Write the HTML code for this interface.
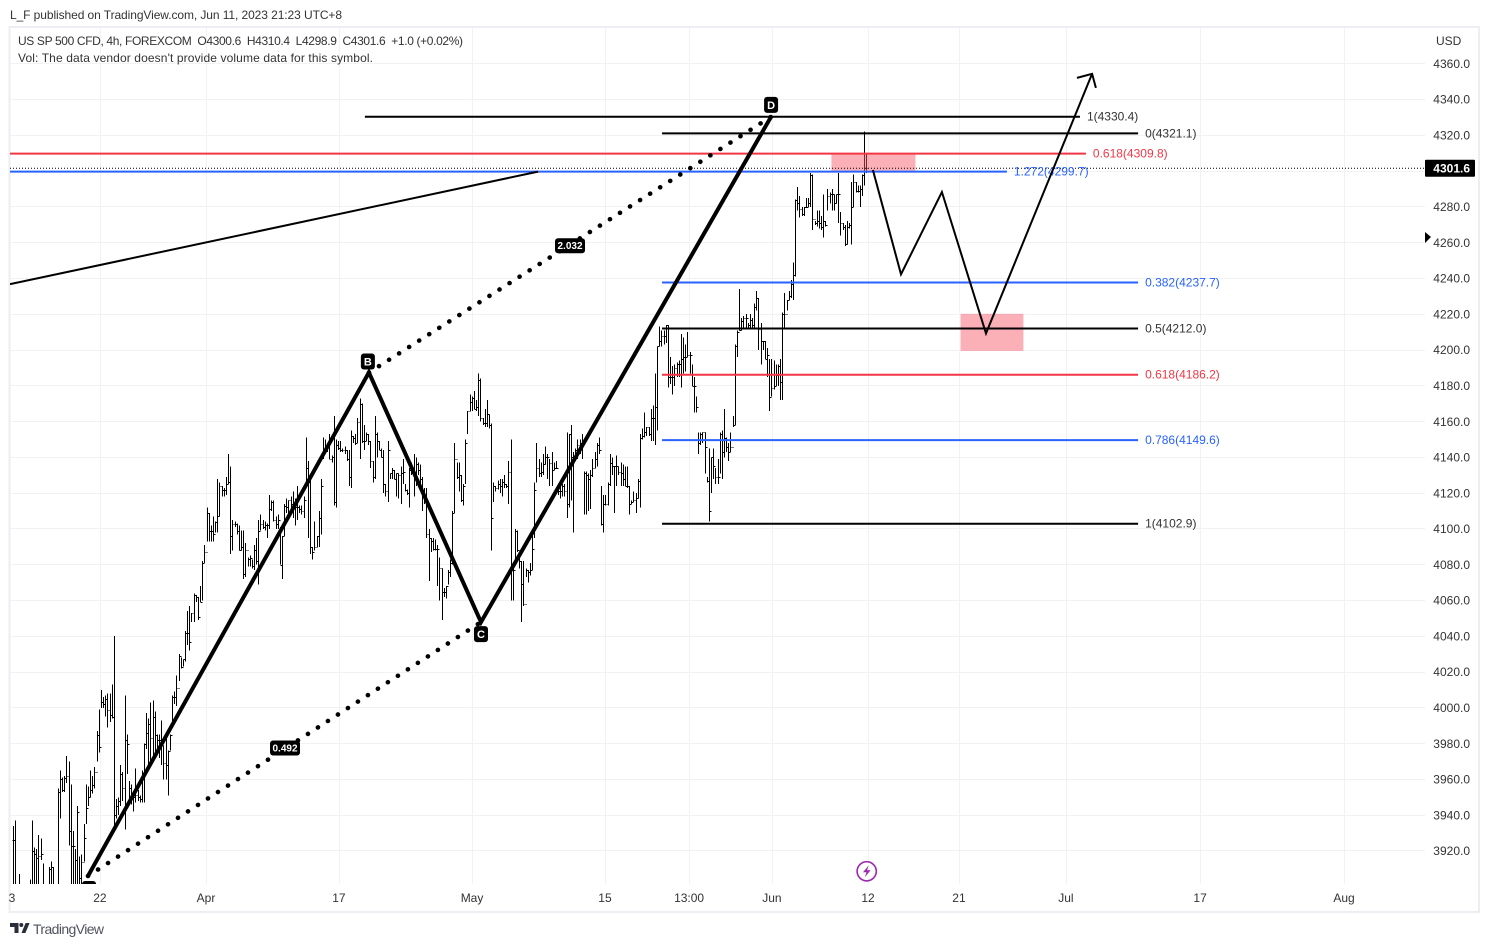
<!DOCTYPE html>
<html lang="en">
<head>
<meta charset="utf-8">
<title>US SP 500 CFD 4h chart</title>
<style>
html,body{margin:0;padding:0;background:#fff;width:1489px;height:947px;overflow:hidden}
svg{display:block;font-family:"Liberation Sans",Arial,sans-serif}
</style>
</head>
<body>
<svg id="chart" xmlns="http://www.w3.org/2000/svg" width="1489" height="947" viewBox="0 0 1489 947">
  <defs><clipPath id="pane-clip"><rect x="10" y="28" width="1415" height="856"/></clipPath></defs>
  <rect x="0" y="0" width="1489" height="947" fill="#ffffff"/>
  <rect x="9.5" y="27" width="1469.5" height="885" fill="#ffffff" stroke="#eceef4" stroke-width="2"/>
  <text x="10" y="19" font-size="12" fill="#333" textLength="332" lengthAdjust="spacing">L_F published on TradingView.com, Jun 11, 2023 21:23 UTC+8</text>
  <g id="grid"></g>
  <g id="pane" clip-path="url(#pane-clip)">
    <g id="bars" stroke="#000" stroke-width="1" fill="none" shape-rendering="crispEdges"></g>
    <g id="drawings"></g>
  </g>
  <text x="18" y="45" font-size="12" fill="#333" textLength="445" lengthAdjust="spacing" xml:space="preserve">US SP 500 CFD, 4h, FOREXCOM  O4300.6  H4310.4  L4298.9  C4301.6  +1.0 (+0.02%)</text>
  <text x="18" y="62" font-size="12" fill="#333" textLength="355" lengthAdjust="spacing">Vol: The data vendor doesn't provide volume data for this symbol.</text>
  <text x="1436" y="45" font-size="12" fill="#333">USD</text>
  <g id="y-axis"></g>
  <g id="x-axis"></g>
  <polygon points="1425,232 1431,237 1425,243" fill="#000"/>
  <g>
    <circle cx="866.7" cy="871.3" r="9.6" fill="#fff" stroke="#9c27b0" stroke-width="1.6"/>
    <path d="M868.8 865.3 L863 872.3 H866.5 L864.8 877.3 L870.6 870.3 H867.1 Z" fill="#9c27b0"/>
  </g>
  <g>
    <path d="M10 923h8.5v10h-4v-6H10z" fill="#2a2e39"/>
    <circle cx="21.3" cy="925" r="2" fill="#2a2e39"/>
    <path d="M21.5 933L25.6 923H29.6L25.4 933z" fill="#2a2e39"/>
    <text x="33" y="934" font-size="14" fill="#50535e" textLength="71" lengthAdjust="spacing">TradingView</text>
  </g>
</svg>
<script>
const highs=[
3934,3937,3899,3907,3895,3895,3895,3896,3904,3937,3922,
3921,3929,3927,3913,3896,3899,3911,3914,3911,3897,
3955,3965,3961,3962,3973,3970,3957,3931,3921,3945,
3917,3918,3935,3957,3956,3965,3962,3967,3987,3999,
4010,4006,4007,4008,4008,4013,4040,3949,3950,3968,
3964,4007,3985,3959,3957,3951,3966,3954,3951,3965,
3980,3997,3994,4003,4004,3998,3985,3985,3993,
3979,3983,3976,3985,4007,
4009,4018,4030,4028,4027,4043,4054,4057,4053,4064,4063,4062,4068,4082,
4091,4112,4109,4102,4107,4104,4128,4126,4124,4123,
4129,4142,4135,4105,4104,4103,4102,4099,4099,4092,
4084,4085,4083,4091,4095,4105,4108,4105,4104,4103,
4119,4116,4116,4107,4108,4101,4096,4114,4117,
4116,4118,4121,4117,4124,4113,4113,4118,4151,4138,
4128,4090,4104,4096,4110,4128,4151,4150,4148,4153,
4141,4163,4150,4149,4149,4145,4146,4144,4144,4155,
4152,4153,4162,4173,4170,4158,4154,4153,4149,4138,
4163,4154,4149,4145,4144,4125,
4149,4131,4134,4133,4131,4131,4135,4139,4125,4122,
4134,4137,4142,4140,4137,4136,4129,4123,4123,4100,
4095,4095,4094,4091,4084,4078,4067,4068,4077,4083,
4110,4148,4137,4137,4130,4125,4150,4166,4175,4174,4177,
4172,4187,4184,4162,4167,4172,4164,4159,4126,4124,
4127,4128,4128,
4130,4125,4138,4150,4079,4100,4099,4087,4082,4082,
4078,4077,4081,4099,4126,4148,4139,4137,4142,4146,
4142,
4139,4143,4137,4138,4125,4124,4125,4125,
4154,4153,4158,4143,4145,4150,4150,4153,4132,4132,
4131,
4133,4139,4143,4148,4151,4124,4119,4119,4126,4142,
4140,4135,4141,4135,4137,4136,4135,4135,4124,4116,4121,4120,4128,
4153,4156,4165,4157,4157,4167,4169,4187,4202,4213,
4211,4211,4214,4214,4196,4191,4192,4193,4194,4209,
4207,4203,4210,4199,4192,4185,4174,4154,4154,4154,
4154,4129,4145,4140,4145,4134,4139,4154,4155,4167,
4151,4148,4154,4163,4203,4211,4234,4218,4219,4220,
4215,4220,4218,4226,4233,4229,4215,4205,4205,4201,
4195,4195,4194,4192,4192,4195,4221,4232,4228,4233,
4239,
4249,4284,4291,4286,4280,4280,4285,4285,4299,4298,
4272,4278,4278,4275,4287,4272,4290,4288,4290,4287,
4287,4299,4277,4271,4270,4272,4271,4294,4298,4294,
4292,4292,4298,4322,4310];
const lows=[
3885,3885,3885,3885,3885,3885,3885,3885,3885,3885,3885,
3900,3897,3915,3885,3885,3885,3885,3885,3885,3885,
3885,3938,3953,3953,3958,3923,3885,3885,3885,3900,
3895,3885,3914,3935,3945,3950,3952,3955,3970,3975,
4000,4000,3995,3989,3992,3994,3934,3938,3940,3945,
3948,3932,3963,3948,3946,3942,3947,3948,3947,3947,
3947,3977,3968,3968,3970,3974,3976,3972,3968,
3960,3960,3951,3976,3992,
4002,4001,4015,4022,4023,4026,4035,4032,4048,4048,4059,4049,4059,4060,
4081,4093,4093,4093,4093,4098,4098,4107,4118,4118,
4119,4125,4086,4088,4101,4097,4088,4088,4072,4073,
4079,4079,4078,4077,4080,4069,4099,4100,4099,4095,
4100,4110,4104,4100,4100,4080,4072,4096,4109,
4107,4108,4106,4102,4105,4109,4108,4106,4125,4095,
4086,4083,4088,4090,4090,4097,4139,4144,4143,4139,
4137,4113,4112,4144,4143,4143,4142,4138,4124,4123,
4148,4147,4148,4139,4148,4144,4149,4147,4134,4126,
4128,4140,4144,4140,4120,4118,
4115,4128,4128,4128,4118,4117,4114,4125,4121,4119,
4112,4130,4118,4124,4130,4122,4110,4114,4095,4071,
4087,4088,4088,4068,4060,4049,4062,4061,4069,4073,
4080,4109,4128,4121,4115,4113,4125,4153,4166,4166,4167,
4166,4163,4160,4158,4157,4157,4156,4088,4115,4121,
4122,4120,4118,
4123,4123,4114,4060,4060,4082,4087,4078,4048,4057,
4073,4070,4074,4077,4095,4126,4129,4129,4130,4136,
4128,
4124,4124,4133,4134,4119,4117,4118,4118,
4106,4112,4116,4098,4138,4139,4142,4139,4108,4108,
4110,
4111,4129,4134,4135,4142,4102,4098,4113,4113,4124,
4130,4109,4124,4130,4124,4124,4124,4123,4108,4114,4115,4109,4117,
4112,4150,4151,4152,4152,4149,4149,4147,4155,4202,
4202,4203,4204,4179,4181,4175,4180,4185,4185,4179,
4187,4188,4196,4187,4180,4165,4165,4142,4147,4148,
4131,4126,4104,4120,4128,4125,4125,4131,4128,4140,
4143,4138,4143,4157,4158,4196,4211,4211,4212,4212,
4212,4212,4212,4212,4222,4200,4192,4200,4195,4185,
4166,4174,4178,4180,4180,4172,4172,4212,4222,4228,
4229,
4228,4241,4278,4274,4275,4275,4280,4280,4280,4267,
4270,4269,4268,4267,4263,4269,4278,4282,4278,4278,
4282,4271,4264,4267,4258,4259,4268,4259,4280,4288,
4288,4280,4286,4292,4299];
const closes=[
3926,3895,3892,3895,3892,3892,3892,3894,3898,3920,3918,
3916,3917,3918,3900,3890,3895,3910,3911,3895,3890,
3953,3960,3954,3961,3962,3931,3923,3923,3915,3942,
3905,3914,3927,3944,3950,3954,3957,3964,3985,3978,
4003,4002,4005,3999,3996,3995,3940,3945,3948,3963,
3955,3982,3980,3955,3950,3950,3951,3950,3949,3960,
3980,3986,3991,3983,3995,3985,3982,3982,3979,
3969,3968,3976,3985,4006,
4006,4011,4029,4023,4027,4042,4042,4037,4053,4063,4062,4051,4059,4081,
4087,4109,4099,4099,4097,4104,4107,4124,4122,4122,
4125,4126,4096,4103,4103,4099,4088,4090,4075,4088,
4083,4084,4079,4088,4082,4099,4103,4101,4102,4102,
4111,4115,4105,4103,4105,4080,4096,4113,4112,
4116,4114,4113,4112,4112,4111,4110,4116,4134,4126,
4090,4087,4090,4096,4106,4124,4144,4144,4147,4139,
4140,4115,4147,4145,4144,4144,4144,4139,4129,4152,
4151,4148,4160,4170,4149,4149,4153,4149,4138,4129,
4153,4149,4144,4140,4125,4121,
4144,4131,4133,4128,4131,4130,4131,4132,4122,4120,
4133,4131,4129,4136,4133,4128,4122,4119,4097,4095,
4093,4089,4089,4089,4078,4065,4065,4068,4076,4081,
4109,4139,4129,4130,4116,4124,4148,4166,4171,4173,4167,
4168,4183,4162,4159,4159,4164,4158,4106,4124,4123,
4125,4124,4126,
4125,4124,4132,4078,4077,4099,4088,4082,4069,4058,
4077,4076,4077,4089,4122,4134,4131,4132,4136,4140,
4140,
4137,4133,4134,4134,4121,4121,4124,4121,
4114,4153,4140,4140,4144,4147,4148,4148,4131,4130,
4128,
4130,4134,4139,4147,4144,4103,4114,4114,4125,4137,
4135,4135,4135,4132,4131,4128,4124,4124,4114,4115,4116,4117,4127,
4151,4152,4154,4157,4153,4162,4162,4168,4202,4205,
4208,4208,4214,4185,4185,4185,4190,4192,4192,4195,
4196,4196,4197,4197,4180,4180,4168,4148,4153,4154,
4146,4127,4110,4140,4135,4129,4129,4153,4143,4151,
4146,4143,4146,4158,4202,4210,4211,4216,4218,4218,
4214,4217,4214,4224,4229,4212,4205,4205,4195,4197,
4174,4179,4180,4186,4191,4182,4220,4220,4228,4230,
4237,
4242,4284,4282,4279,4276,4280,4280,4282,4298,4273,
4271,4272,4271,4269,4272,4270,4286,4287,4287,4282,
4287,4287,4271,4269,4259,4269,4270,4280,4294,4289,
4289,4290,4298,4310,4301.6];

const priceTicks=[4360,4340,4320,4300,4280,4260,4240,4220,4200,4180,4160,4140,4120,4100,4080,4060,4040,4020,4000,3980,3960,3940,3920];
const timeTickLabels=["3","22","Apr","17","May","15","13:00","Jun","12","21","Jul","17","Aug"];
const timeTickBars=[-401.1,-359.8,-310,-247.6,-185.1,-122.7,-83.2,-44.3,0.8,43.5,93.7,156.7,224.3];
const lastPrice=4301.6;

const levelLabels=["1(4330.4)","0(4321.1)","0.618(4309.8)","1.272(4299.7)","0.382(4237.7)","0.5(4212.0)","0.618(4186.2)","0.786(4149.6)","1(4102.9)"];
const levelPrices=[4330.4,4321.1,4309.8,4299.7,4237.7,4212.0,4186.2,4149.6,4102.9];
const levelBarStart=[-235.4,-95.9,-402,-402,-95.9,-95.9,-95.9,-95.9,-95.9];
const levelBarEnd=[100.3,127.6,103.1,66,127.6,127.6,127.6,127.6,127.6];
const levelKinds=["black","black","red","blue","blue","black","red","blue","black"];

const patternBars=[-365.4,-233.5,-180.9,-44.7];
const patternPrices=[3906,4187.4,4047.9,4330.4];
const patternLetters=["X","B","C","D"];
const letterBars=[-364.9,-234,-180.9,-44.7];
const letterPrices=[3898.7,4193.6,4041.2,4337];

const ratioLabels=["0.492","2.032"];
const ratioBars=[-272.9,-139.1];
const ratioPrices=[3977.5,4258.3];

const trendBars=[-402,-154.1];
const trendPrices=[4236.8,4299.7];

const projectionBars=[3.1,16.3,35.5,56.2,106];
const projectionPrices=[4300.6,4242.3,4288.3,4209.3,4354.4];
const arrowBars=[98.9,106,107.8];
const arrowPrices=[4352.1,4354.4,4346.5];

const zoneBarStart=[-16.6,44];
const zoneBarEnd=[23.3,74];
const zoneTop=[4309.6,4220.5];
const zoneBottom=[4300,4199.2];

const NS="http://www.w3.org/2000/svg";
const endX=866.3, startX=12.5, drawStep=2.13;
const barStep=(endX-startX)/(highs.length-1);
function barX(i){return endX-(highs.length-1-i)*barStep;}
function offX(o){return endX+o*drawStep;}
function priceY(p){return 528.9-(p-4100)*1.789;}
function node(tag,parent){const el=document.createElementNS(NS,tag);parent.appendChild(el);return el;}
function pointsOf(xs,ys){return xs.map(function(o,i){return offX(o).toFixed(1)+","+priceY(ys[i]).toFixed(1);}).join(" ");}

const grid=document.getElementById("grid");
const yAxis=document.getElementById("y-axis");
const xAxis=document.getElementById("x-axis");
const barsG=document.getElementById("bars");
const drawG=document.getElementById("drawings");

priceTicks.forEach(function(p){
  const y=Math.floor(priceY(p))+0.5;
  const line=node("line",grid);
  
  
  line.setAttribute("x1",10);line.setAttribute("x2",1425);line.setAttribute("y1",y);line.setAttribute("y2",y);
  line.setAttribute("stroke","#f1f2f6");line.setAttribute("stroke-width",1);
  if(p===4300)return;
  const t=node("text",yAxis);
  
  
  t.setAttribute("x",1470);t.setAttribute("y",priceY(p)+4.2);t.setAttribute("text-anchor","end");
  t.setAttribute("font-size",12);t.setAttribute("fill","#333");
  t.textContent=p.toFixed(1);
});

timeTickLabels.forEach(function(label,i){
  const x=offX(timeTickBars[i]);
  if(i>0){
    const line=node("line",grid);
    
    
    const gx=Math.round(x)+0.5;
    line.setAttribute("x1",gx);line.setAttribute("x2",gx);line.setAttribute("y1",28);line.setAttribute("y2",884);
    line.setAttribute("stroke","#f1f2f6");line.setAttribute("stroke-width",1);
  }
  const t=node("text",xAxis);
  
  
  t.setAttribute("x",x);t.setAttribute("y",902);t.setAttribute("text-anchor","middle");
  t.setAttribute("font-size",12);t.setAttribute("fill","#333");
  t.textContent=label;
});

highs.forEach(function(h,i){
  const x=Math.round(barX(i))+0.5;
  const open=i>0?closes[i-1]:closes[i];
  const yo=Math.round(priceY(open))+0.5, yc=Math.round(priceY(closes[i]))+0.5;
  const p=node("path",barsG);
  
  
  p.setAttribute("d","M"+x+" "+priceY(h).toFixed(1)+"V"+priceY(lows[i]).toFixed(1)+"M"+(x-1)+" "+yo+"H"+x+"M"+x+" "+yc+"H"+(x+1));
});

/* zones */
zoneBarStart.forEach(function(s,i){
  const r=node("rect",drawG);
  
  
  r.setAttribute("x",offX(s));r.setAttribute("width",offX(zoneBarEnd[i])-offX(s));
  r.setAttribute("y",priceY(zoneTop[i]));r.setAttribute("height",priceY(zoneBottom[i])-priceY(zoneTop[i]));
  r.setAttribute("fill","rgba(247,82,100,.46)");r.setAttribute("stroke","#ffffff");r.setAttribute("stroke-width",1);
});

/* last price line */
const lastLine=node("line",drawG);


lastLine.setAttribute("x1",10);lastLine.setAttribute("x2",1425);
lastLine.setAttribute("y1",priceY(lastPrice));lastLine.setAttribute("y2",priceY(lastPrice));
lastLine.setAttribute("stroke","#000");lastLine.setAttribute("stroke-width",1);lastLine.setAttribute("stroke-dasharray","1 2");

/* horizontal levels */
const kindColor={black:"#000000",red:"#f23645",blue:"#2962ff"};
levelPrices.forEach(function(p,i){
  const c=kindColor[levelKinds[i]];
  const y=priceY(p);
  const l=node("line",drawG);
  
  
  l.setAttribute("x1",offX(levelBarStart[i]));l.setAttribute("x2",offX(levelBarEnd[i]));
  l.setAttribute("y1",y);l.setAttribute("y2",y);l.setAttribute("stroke",c);l.setAttribute("stroke-width",2);
  const t=node("text",drawG);
  
  
  t.setAttribute("x",offX(levelBarEnd[i])+7);t.setAttribute("y",y+4);
  t.setAttribute("font-size",12);t.setAttribute("fill",levelKinds[i]==="black"?"#333":c);
  t.textContent=levelLabels[i];
});

/* trend line */
const trend=node("polyline",drawG);


trend.setAttribute("points",pointsOf(trendBars,trendPrices));
trend.setAttribute("fill","none");trend.setAttribute("stroke","#000");trend.setAttribute("stroke-width",2);

/* dotted ratio legs */
const dotA=node("line",drawG);


dotA.setAttribute("x1",offX(patternBars[0]));dotA.setAttribute("y1",priceY(patternPrices[0]));
dotA.setAttribute("x2",offX(patternBars[2]));dotA.setAttribute("y2",priceY(patternPrices[2]));
const dotB=node("line",drawG);


dotB.setAttribute("x1",offX(patternBars[1]));dotB.setAttribute("y1",priceY(patternPrices[1]));
dotB.setAttribute("x2",offX(patternBars[3]));dotB.setAttribute("y2",priceY(patternPrices[3]));
[dotA,dotB].forEach(function(d){
  d.setAttribute("stroke","#000");d.setAttribute("stroke-width",4.6);
  d.setAttribute("stroke-linecap","round");d.setAttribute("stroke-dasharray","0.1 11.8");
});

/* thick pattern */
const pattern=node("polyline",drawG);


pattern.setAttribute("points",pointsOf(patternBars,patternPrices));
pattern.setAttribute("fill","none");pattern.setAttribute("stroke","#000");pattern.setAttribute("stroke-width",4);
pattern.setAttribute("stroke-linejoin","miter");

/* projection with arrow */
const proj=node("polyline",drawG);


proj.setAttribute("points",pointsOf(projectionBars,projectionPrices));
proj.setAttribute("fill","none");proj.setAttribute("stroke","#000");proj.setAttribute("stroke-width",2);
const arrow=node("polyline",drawG);


arrow.setAttribute("points",pointsOf(arrowBars,arrowPrices));
arrow.setAttribute("fill","none");arrow.setAttribute("stroke","#000");arrow.setAttribute("stroke-width",2);

/* pills */
patternLetters.forEach(function(letter,i){
  const x=offX(letterBars[i]), y=priceY(letterPrices[i]);
  const r=node("rect",drawG);
  
  
  r.setAttribute("x",x-7);r.setAttribute("y",y-8);r.setAttribute("width",14);r.setAttribute("height",16);
  r.setAttribute("rx",3);r.setAttribute("fill","#000");
  const t=node("text",drawG);
  
  
  t.setAttribute("x",x);t.setAttribute("y",y+4);t.setAttribute("text-anchor","middle");
  t.setAttribute("font-size",11);t.setAttribute("font-weight","bold");t.setAttribute("fill","#fff");
  t.textContent=letter;
});
ratioLabels.forEach(function(label,i){
  const x=offX(ratioBars[i]), y=priceY(ratioPrices[i]);
  const r=node("rect",drawG);
  
  
  r.setAttribute("x",x-15);r.setAttribute("y",y-7.5);r.setAttribute("width",30);r.setAttribute("height",15);
  r.setAttribute("rx",3);r.setAttribute("fill","#000");
  const t=node("text",drawG);
  
  
  t.setAttribute("x",x);t.setAttribute("y",y+3.5);t.setAttribute("text-anchor","middle");
  t.setAttribute("font-size",10);t.setAttribute("font-weight","bold");t.setAttribute("fill","#fff");
  t.textContent=label;
});

/* last price badge */
const lastBox=node("rect",yAxis);


lastBox.setAttribute("x",1425);lastBox.setAttribute("y",priceY(lastPrice)-8.5);lastBox.setAttribute("width",50);lastBox.setAttribute("height",17);
lastBox.setAttribute("rx",1);lastBox.setAttribute("fill","#000");
const lastText=node("text",yAxis);


lastText.setAttribute("x",1470);lastText.setAttribute("y",priceY(lastPrice)+4.5);lastText.setAttribute("text-anchor","end");
lastText.setAttribute("font-size",12);lastText.setAttribute("font-weight","bold");lastText.setAttribute("fill","#fff");
lastText.textContent=lastPrice.toFixed(1);
</script>
</body>
</html>
